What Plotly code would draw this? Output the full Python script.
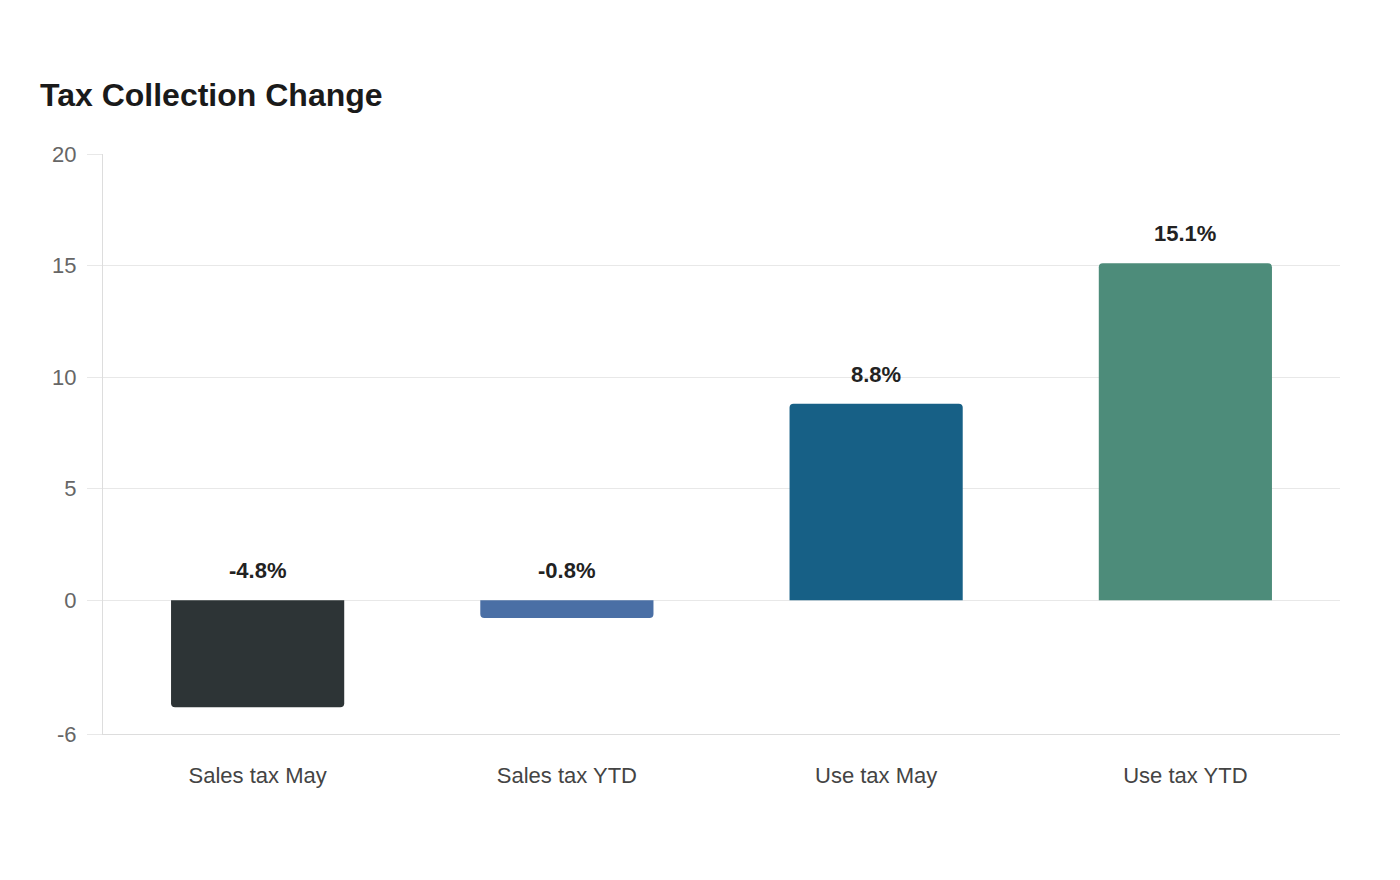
import plotly.graph_objects as go

categories = ["Sales tax May", "Sales tax YTD", "Use tax May", "Use tax YTD"]
values = [-4.8, -0.8, 8.8, 15.1]
labels = ["-4.8%", "-0.8%", "8.8%", "15.1%"]
colors = ["#2d3436", "#4a6fa5", "#176086", "#4d8c7a"]
tick_vals = [-6, 0, 5, 10, 15, 20]

fig = go.Figure()
fig.add_trace(go.Bar(
    x=categories, y=values, marker=dict(color=colors, line=dict(width=0)),
    width=0.56, hoverinfo="skip",
))

for c, v, t in zip(categories, values, labels):
    fig.add_annotation(
        x=c, y=max(v, 0), text=t, showarrow=False, yanchor="bottom", yshift=15,
        font=dict(family="Liberation Sans, Arial, sans-serif", size=22, color="#222222", weight="bold"),
    )

fig.update_layout(
    width=1400, height=880,
    margin=dict(l=103, r=60, t=154, b=146),
    plot_bgcolor="white", paper_bgcolor="white",
    barcornerradius=4,
    showlegend=False,
    font=dict(family="Liberation Sans, Arial, sans-serif"),
    title=dict(
        text="<b>Tax Collection Change</b>", x=40/1400, xref="container", xanchor="left",
        y=1-95/880, yref="container", yanchor="middle",
        font=dict(size=32, color="#1a1a1a"),
    ),
)
fig.update_yaxes(
    range=[-6, 20], tickvals=tick_vals, ticktext=[str(v) for v in tick_vals],
    showgrid=True, gridcolor="#e8e8e8", gridwidth=1,
    zeroline=False,
    showline=True, linecolor="#dddddd", linewidth=1,
    ticks="outside", ticklen=15, tickcolor="#e8e8e8",
    tickfont=dict(size=22, color="#666666"), ticklabelstandoff=6,
)
fig.update_xaxes(
    showline=True, linecolor="#dddddd", linewidth=1, showgrid=False,
    ticks="", tickfont=dict(size=22, color="#444444"), ticklabelstandoff=22,
)

fig.write_html("out.html")
